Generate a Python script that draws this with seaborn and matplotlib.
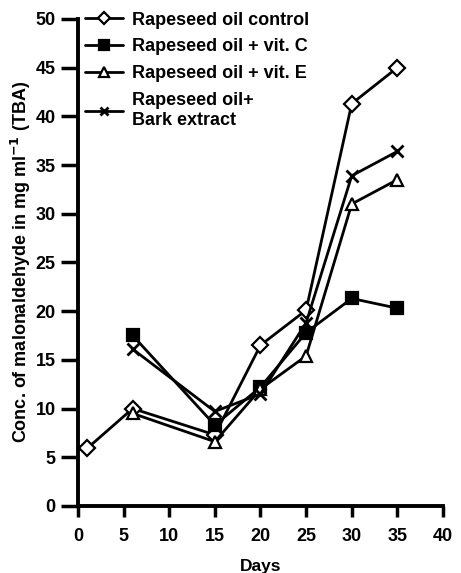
import seaborn as sns
import matplotlib.pyplot as plt
import pandas as pd

dias_control = [1, 6, 15, 20, 25, 30, 35]
control = [5.9, 10.0, 7.3, 16.5, 20.1, 41.3, 45.0]

dias = [6, 15, 20, 25, 30, 35]
vit_c = [17.5, 8.3, 12.2, 17.8, 21.3, 20.3]
vit_e = [9.5, 6.6, 12.0, 15.4, 31.0, 33.5]
corteza = [16.1, 9.7, 11.5, 18.8, 33.9, 36.4]

etiquetas = ["Rapeseed oil control", "Rapeseed oil + vit. C",
             "Rapeseed oil + vit. E", "Rapeseed oil+\nBark extract"]

series = [(dias_control, control), (dias, vit_c), (dias, vit_e), (dias, corteza)]
estilos = [dict(marker="D", markerfacecolor="white", markersize=8),
           dict(marker="s", markerfacecolor="black", markersize=9),
           dict(marker="^", markerfacecolor="white", markersize=9),
           dict(marker="x", markerfacecolor="black", markersize=8, markeredgewidth=2)]

sns.set_style("ticks", {"text.color": "black", "axes.labelcolor": "black",
                        "xtick.color": "black", "ytick.color": "black",
                        "axes.edgecolor": "black"})
plt.rcParams["font.family"] = ["Liberation Sans", "DejaVu Sans"]
plt.rcParams["font.weight"] = "bold"

fig = plt.figure(figsize=(4.61, 5.73), dpi=100)
ax = fig.add_axes([0.169, 0.117, 0.792, 0.85])

for (x, y), etiqueta, estilo in zip(series, etiquetas, estilos):
    df = pd.DataFrame({"Days": x, "Conc": y})
    kw = dict(markeredgecolor="black", markeredgewidth=1.6)
    kw.update(estilo)
    sns.lineplot(data=df, x="Days", y="Conc", color="black", linewidth=2,
                 label=etiqueta, ax=ax, **kw)

ax.set_xlim(0, 40)
ax.set_ylim(0, 50)
ax.set_xticks(range(0, 41, 5))
ax.set_yticks(range(0, 51, 5))
ax.set_xlabel("Days", fontsize=12.5, fontweight="bold", labelpad=10, color="black")
ax.set_ylabel("Conc. of malonaldehyde in mg ml$^{-1}$ (TBA)", fontsize=13,
              fontweight="bold", labelpad=2, color="black")
ax.tick_params(axis="x", labelsize=13, width=2.5, length=8, pad=8, colors="black")
ax.tick_params(axis="y", labelsize=13, width=2.5, length=12, pad=4, colors="black")
for lab in ax.get_xticklabels() + ax.get_yticklabels():
    lab.set_fontweight("bold")
sns.despine(ax=ax)
for s in ["left", "bottom"]:
    ax.spines[s].set_linewidth(2.8)
    ax.spines[s].set_color("black")

leg = ax.legend(loc="upper left", frameon=False, fontsize=13, handlelength=2.1,
                borderaxespad=0.0, labelspacing=0.55, handletextpad=0.5,
                markerscale=0.8, bbox_to_anchor=(0.0, 1.03))
for t in leg.get_texts():
    t.set_fontweight("bold")
    t.set_color("black")

fig.savefig("out.png", dpi=100)
